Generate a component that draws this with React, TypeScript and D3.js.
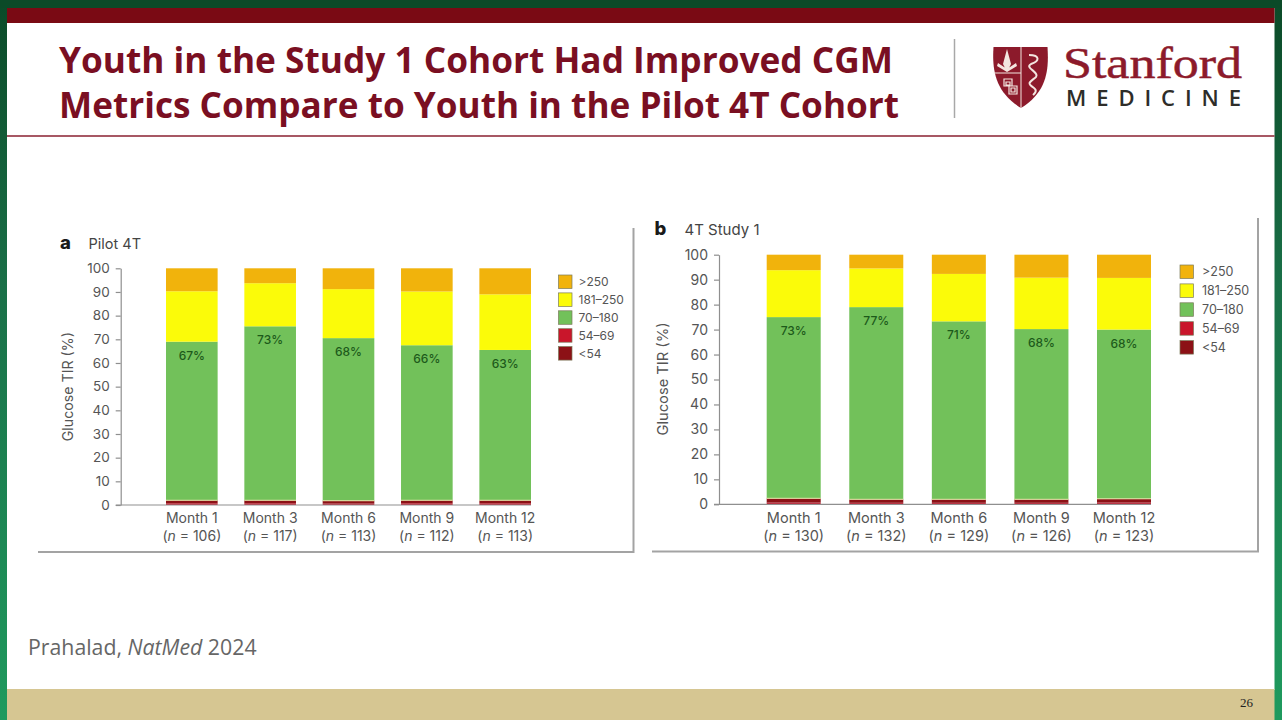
import { useRef, useEffect } from 'react';
import * as d3 from 'd3';

type Layout = {
  letter: string;
  title: string;
  top: number;
  bottom: number;
  axisX: number;
  barStart: number;
  barEnd: number;
  barPadding: number;
  fontSize: number;
  legendFont: number;
  labelX: number;
  labelY: number;
  letterX: number;
  titleX: number;
  titleY: number;
  monthY: number;
  nY: number;
  legendX: number;
  legendTextX: number;
  legendY: number;
  legendStep: number;
  frameLeft: number;
  frameRight: number;
  frameTop: number;
  frameBottom: number;
};

const months = ['Month 1', 'Month 3', 'Month 6', 'Month 9', 'Month 12'];
const yTicks = [0, 10, 20, 30, 40, 50, 60, 70, 80, 90, 100];

// drawn bottom to top, the dark band sits above the lighter one in the picture
const stackKeys = ['54–69', '<54', '70–180', '181–250', '>250'];
const legendKeys = ['>250', '181–250', '70–180', '54–69', '<54'];
const colors: Record<string, string> = {
  '>250': '#f1b30c',
  '181–250': '#fbfb09',
  '70–180': '#72c15a',
  '54–69': '#c9162b',
  '<54': '#8c1116',
};

const pilotN = [106, 117, 113, 112, 113];
const pilotLabels = ['67%', '73%', '68%', '66%', '63%'];
const pilotLevel2 = [0.7, 0.7, 0.6, 0.7, 0.7];
const pilotLevel1 = [1.3, 1.3, 1.2, 1.3, 1.3];
const pilotInRange = [67, 73.5, 68.7, 65.5, 63.5];
const pilotHigh = [21.3, 18.2, 20.7, 22.7, 23.5];
const pilotVeryHigh = [9.7, 6.3, 8.8, 9.8, 11];

const studyN = [130, 132, 129, 126, 123];
const studyLabels = ['73%', '77%', '71%', '68%', '68%'];
const studyLevel2 = [0.7, 0.6, 0.6, 0.6, 0.7];
const studyLevel1 = [1.7, 1.4, 1.4, 1.4, 1.5];
const studyInRange = [72.6, 77, 71.3, 68.2, 67.8];
const studyHigh = [18.8, 15.5, 19, 20.6, 20.7];
const studyVeryHigh = [6.2, 5.5, 7.7, 9.2, 9.3];

const toRows = (
  level2: number[],
  level1: number[],
  inRange: number[],
  high: number[],
  veryHigh: number[]
) =>
  months.map((month, i) => ({
    month,
    '54–69': level2[i],
    '<54': level1[i],
    '70–180': inRange[i],
    '181–250': high[i],
    '>250': veryHigh[i],
  }));

const pilotRows = toRows(pilotLevel2, pilotLevel1, pilotInRange, pilotHigh, pilotVeryHigh);
const studyRows = toRows(studyLevel2, studyLevel1, studyInRange, studyHigh, studyVeryHigh);

const pilotLayout: Layout = {
  letter: 'a',
  title: 'Pilot 4T',
  top: 268.3,
  bottom: 505,
  axisX: 120.7,
  barStart: 166,
  barEnd: 531,
  barPadding: 0.341,
  fontSize: 14,
  legendFont: 12,
  labelX: 72.5,
  labelY: 386.7,
  letterX: 60,
  titleX: 88.5,
  titleY: 249,
  monthY: 523,
  nY: 540.5,
  legendX: 558.5,
  legendTextX: 20,
  legendY: 275,
  legendStep: 17.9,
  frameLeft: 38,
  frameRight: 633.5,
  frameTop: 228,
  frameBottom: 552,
};

const studyLayout: Layout = {
  letter: 'b',
  title: '4T Study 1',
  top: 254.7,
  bottom: 504.3,
  axisX: 719,
  barStart: 766.7,
  barEnd: 1151,
  barPadding: 0.346,
  fontSize: 14.5,
  legendFont: 12.5,
  labelX: 667.5,
  labelY: 379,
  letterX: 654.5,
  titleX: 684.5,
  titleY: 234.5,
  monthY: 522.5,
  nY: 541,
  legendX: 1180,
  legendTextX: 22,
  legendY: 265,
  legendStep: 18.9,
  frameLeft: 652,
  frameRight: 1258,
  frameTop: 218,
  frameBottom: 551.5,
};

const CHART_FONT = 'Inter, "Noto Sans", sans-serif';
const TEXT_GREY = '#555';

const drawPanel = (
  g: d3.Selection<SVGGElement, unknown, null, undefined>,
  rows: ReturnType<typeof toRows>,
  nValues: number[],
  pctLabels: string[],
  p: Layout
) => {
  const x = d3
    .scaleBand()
    .domain(months)
    .range([p.barStart, p.barEnd])
    .paddingInner(p.barPadding)
    .paddingOuter(0);
  const y = d3.scaleLinear().domain([0, 100]).range([p.bottom, p.top]);
  const stack = d3.stack<any>().keys(stackKeys)(rows);

  // outer frame, only the right and bottom edges are visible
  g.append('path')
    .attr('d', `M${p.frameRight},${p.frameTop}V${p.frameBottom}H${p.frameLeft}`)
    .attr('fill', 'none')
    .attr('stroke', '#a3a3a3')
    .attr('stroke-width', 2);

  g.append('g')
    .selectAll('g')
    .data(stack)
    .join('g')
    .attr('fill', (s) => colors[s.key])
    .selectAll('rect')
    .data((s) => s)
    .join('rect')
    .attr('x', (d) => x(d.data.month) as number)
    .attr('width', x.bandwidth())
    .attr('y', (d) => y(d[1]))
    .attr('height', (d) => y(d[0]) - y(d[1]));

  // pale seam between the low band and the in range band
  g.append('g')
    .selectAll('line')
    .data(rows)
    .join('line')
    .attr('x1', (d) => x(d.month) as number)
    .attr('x2', (d) => (x(d.month) as number) + x.bandwidth())
    .attr('y1', (d) => y(d['54–69'] + d['<54']))
    .attr('y2', (d) => y(d['54–69'] + d['<54']))
    .attr('stroke', '#e6e3a8')
    .attr('stroke-width', 1);

  const yAxis = g
    .append('g')
    .attr('transform', `translate(${p.axisX},0)`)
    .call(d3.axisLeft(y).tickValues(yTicks).tickSize(5).tickPadding(6).tickSizeOuter(0));
  yAxis.selectAll('path,line').attr('stroke', '#8f8f8f').attr('stroke-width', 1.2);
  yAxis
    .selectAll('text')
    .attr('fill', TEXT_GREY)
    .attr('font-family', CHART_FONT)
    .attr('font-size', p.fontSize - 0.5);

  g.append('line')
    .attr('x1', p.axisX - 5)
    .attr('x2', p.barEnd)
    .attr('y1', p.bottom)
    .attr('y2', p.bottom)
    .attr('stroke', '#8f8f8f')
    .attr('stroke-width', 1.2);

  g.append('text')
    .attr('transform', `translate(${p.labelX},${p.labelY}) rotate(-90)`)
    .attr('text-anchor', 'middle')
    .attr('font-family', CHART_FONT)
    .attr('font-size', p.fontSize + 0.2)
    .attr('fill', TEXT_GREY)
    .text('Glucose TIR (%)');

  g.append('text')
    .attr('x', p.letterX)
    .attr('y', p.titleY)
    .attr('font-family', CHART_FONT)
    .attr('font-weight', 800)
    .attr('font-size', 18.5)
    .attr('fill', '#1a1a1a')
    .text(p.letter);

  g.append('text')
    .attr('x', p.titleX)
    .attr('y', p.titleY)
    .attr('font-family', CHART_FONT)
    .attr('font-size', p.fontSize + 0.5)
    .attr('fill', '#444')
    .text(p.title);

  // percent labels hang off the top of the in range segment
  g.append('g')
    .selectAll('text')
    .data(rows)
    .join('text')
    .attr('x', (d) => (x(d.month) as number) + x.bandwidth() / 2)
    .attr('y', (d) => y(d['54–69'] + d['<54'] + d['70–180']) + 18)
    .attr('text-anchor', 'middle')
    .attr('font-family', CHART_FONT)
    .attr('font-size', 12)
    .attr('font-weight', 500)
    .attr('fill', '#1d5a1a')
    .text((_, i) => pctLabels[i]);

  const cats = g
    .append('g')
    .selectAll('g')
    .data(months)
    .join('g')
    .attr('transform', (d) => `translate(${(x(d) as number) + x.bandwidth() / 2},0)`)
    .attr('text-anchor', 'middle')
    .attr('font-family', CHART_FONT)
    .attr('font-size', p.fontSize)
    .attr('fill', TEXT_GREY);
  cats
    .append('text')
    .attr('y', p.monthY)
    .text((d) => d);
  const nText = cats.append('text').attr('y', p.nY);
  nText.append('tspan').text('(');
  nText.append('tspan').attr('font-style', 'italic').text('n');
  nText.append('tspan').text((_, i) => ` = ${nValues[i]})`);

  const legend = g
    .append('g')
    .selectAll('g')
    .data(legendKeys)
    .join('g')
    .attr('transform', (_, i) => `translate(${p.legendX},${p.legendY + i * p.legendStep})`);
  legend
    .append('rect')
    .attr('width', 13.5)
    .attr('height', 13.5)
    .attr('fill', (d) => colors[d])
    .attr('stroke', '#7a7a5a')
    .attr('stroke-width', 0.7);
  legend
    .append('text')
    .attr('x', p.legendTextX)
    .attr('y', 11)
    .attr('font-family', CHART_FONT)
    .attr('font-size', p.legendFont)
    .attr('fill', TEXT_GREY)
    .text((d) => d);
};

const Logo = () => (
  <g>
    <line x1={954.5} x2={954.5} y1={39} y2={118} stroke="#a8a8a8" strokeWidth={1.5} />
    <path
      d="M993.5,47H1047.5C1049,70 1047,92 1021,108C995,92 992,70 993.5,47Z"
      fill="#8c1a2b"
    />
    <path d="M1021,47V108M993.5,73H1021" stroke="#f3e6e0" strokeWidth={1} fill="none" />
    {/* tree */}
    <path
      d="M1007,49L1011,64L1007,72L1003,64Z M998,63L1007,69L1016,63L1017,66L1007,72L997,66Z"
      fill="#f3e6e0"
    />
    {/* staff and snake */}
    <path
      d="M1029,55C1040,55 1040,61 1031,64C1024,68 1040,72 1036,77C1030,82 1026,83 1034,88C1038,91 1034,94 1033,95"
      stroke="#f3e6e0"
      strokeWidth={2}
      fill="none"
    />
    {/* blocks */}
    <path
      d="M1004,79h8v7h-8Z M1009,86h8v8h-8Z M1006,82h4v3h-4Z M1011,88h4v4h-4Z"
      stroke="#f3e6e0"
      strokeWidth={1.2}
      fill="none"
    />
    <text
      x={1063}
      y={78}
      fontFamily='"Liberation Serif", serif'
      fontSize={44}
      fill="#8c1a2b"
      stroke="#8c1a2b"
      strokeWidth={0.5}
      textLength={179}
      lengthAdjust="spacingAndGlyphs"
    >
      Stanford
    </text>
    <text
      x={1066}
      y={106}
      fontFamily='"Open Sans", sans-serif'
      fontWeight={600}
      fontSize={22}
      fill="#2e2d29"
      textLength={175}
      lengthAdjust="spacing"
    >
      MEDICINE
    </text>
  </g>
);

const App = () => {
  const chartRef = useRef<SVGGElement>(null);

  useEffect(() => {
    const root = d3.select(chartRef.current as SVGGElement);
    root.selectAll('*').remove();
    drawPanel(root.append('g'), pilotRows, pilotN, pilotLabels, pilotLayout);
    drawPanel(root.append('g'), studyRows, studyN, studyLabels, studyLayout);
  }, []);

  return (
    <svg
      width={1282}
      height={720}
      style={{ position: 'absolute', left: 0, top: 0, display: 'block' }}
    >
      <defs>
        <linearGradient id="side" x1="0" y1="0" x2="0" y2="1">
          <stop offset="0" stopColor="#0b4a28" />
          <stop offset="0.4" stopColor="#1a7048" />
          <stop offset="1" stopColor="#1f9a5e" />
        </linearGradient>
      </defs>
      <rect width={1282} height={720} fill="url(#side)" />
      <rect x={0} y={0} width={1282} height={8} fill="#0b4a28" />
      <rect x={7} y={8} width={1267.5} height={682} fill="#fff" />
      <rect x={7} y={8} width={1267.5} height={15} fill="#7a0a14" />
      <line x1={7} x2={1274.5} y1={136} y2={136} stroke="#8a2030" strokeWidth={1.5} />
      <rect x={7} y={689} width={1267.5} height={31} fill="#d6c692" />

      <g fontFamily='"Open Sans", sans-serif' fontWeight={700} fontSize={36} fill="#7a0f22">
        <text x={59} y={73} textLength={834} lengthAdjust="spacingAndGlyphs">
          Youth in the Study 1 Cohort Had Improved CGM
        </text>
        <text x={59} y={118} textLength={840} lengthAdjust="spacingAndGlyphs">
          Metrics Compare to Youth in the Pilot 4T Cohort
        </text>
      </g>
      <Logo />

      <g ref={chartRef} />

      <text x={28} y={655} fontFamily='"Open Sans", sans-serif' fontSize={21.3} fill="#666">
        Prahalad, <tspan fontStyle="italic">NatMed</tspan> 2024
      </text>
      <text x={1240} y={707} fontFamily='"Liberation Serif", serif' fontSize={13} fill="#222">
        26
      </text>
    </svg>
  );
};

export default App;
